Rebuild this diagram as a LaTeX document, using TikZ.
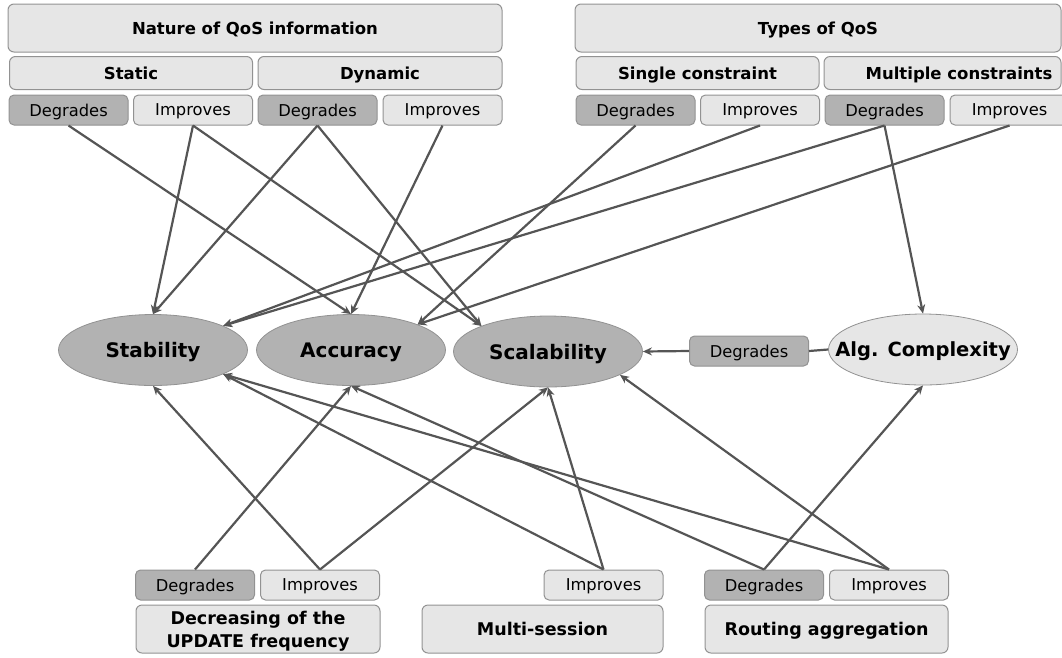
\documentclass[tikz,border=0pt]{standalone}
\usepackage{fontspec}
\setmainfont{DejaVu Sans}
\usepackage{tikz}
\usetikzlibrary{shapes.geometric}
\usetikzlibrary{arrows.meta}

\definecolor{boxlight}{HTML}{E6E6E6}
\definecolor{boxdark}{HTML}{B2B2B2}
\definecolor{boxline}{HTML}{929292}
\definecolor{arrline}{HTML}{555555}

\tikzset{
  hdr/.style={draw=boxline, fill=boxlight, rounded corners=6pt, line width=1pt, inner sep=0pt,
    text depth=0pt, font=\fontsize{16.5}{21}\selectfont\bfseries, align=center},
  bot/.style={hdr, font=\fontsize{17.5}{23}\selectfont\bfseries, minimum height=48pt},
  deg/.style={draw=boxline, fill=boxdark, rounded corners=5pt, line width=1pt, inner sep=0pt,
    text depth=0pt, minimum width=119pt, minimum height=30pt, font=\fontsize{16.3}{19}\selectfont},
  imp/.style={deg, fill=boxlight},
  prop/.style={ellipse, draw=boxline, fill=boxdark, line width=0.8pt, inner sep=0pt,
    text depth=0pt, minimum width=189pt, minimum height=71pt, font=\fontsize{20}{24}\selectfont\bfseries},
  link/.style={draw=arrline, line width=2.2pt, -{Stealth[length=9pt,width=8pt]}},
}

\begin{document}
\begin{tikzpicture}[x=1pt,y=-1pt]
    \useasboundingbox (0,0) rectangle (1062,657);

    % top: nature of QoS information
    \node[hdr, minimum width=494pt, minimum height=48pt] (nat) at (255,28) {Nature of QoS information};
    \node[hdr, minimum width=243pt, minimum height=33pt] (sta) at (131,73) {Static};
    \node[hdr, minimum width=244pt, minimum height=33pt] (dyn) at (380,73) {Dynamic};
    \node[deg] (d1) at (68.5,110) {Degrades};
    \node[imp] (i1) at (193,110) {Improves};
    \node[deg] (d2) at (317.5,110) {Degrades};
    \node[imp] (i2) at (442.5,110) {Improves};

    % top: types of QoS
    \node[hdr, minimum width=486pt, minimum height=48pt] (typ) at (818,28) {Types of QoS};
    \node[hdr, minimum width=243pt, minimum height=33pt] (sgl) at (697.5,73) {Single constraint};
    \node[hdr, minimum width=237pt, minimum height=33pt] (mul) at (942.5,73) {\hspace*{33pt}Multiple constraints};
    \node[deg] (d3) at (635.5,110) {Degrades};
    \node[imp] (i3) at (760,110) {Improves};
    \node[deg] (d4) at (884.5,110) {Degrades};
    \node[imp] (i4) at (1009.5,110) {Improves};

    % properties
    \node[prop] (st) at (153,350) {\makebox[0pt]{Stability}};
    \node[prop] (ac) at (351,350) {\makebox[0pt]{Accuracy}};
    \node[prop] (sc) at (548,351.5) {\makebox[0pt]{Scalability}};
    \node[prop, fill=boxlight, font=\fontsize{19.5}{23}\selectfont\bfseries] (alg) at (923,349.5) {\makebox[0pt]{Alg. Complexity}};
    \node[deg] (dm) at (749,351) {Degrades};

    % bottom
    \node[deg] (d5) at (195,585) {Degrades};
    \node[imp] (i5) at (320,585) {Improves};
    \node[bot, minimum width=244pt] (upd) at (258,629) {Decreasing of the\\UPDATE frequency};
    \node[imp] (i6) at (603.5,585) {Improves};
    \node[bot, minimum width=241pt] (mse) at (542.5,629) {Multi-session};
    \node[deg] (d7) at (764,585) {Degrades};
    \node[imp] (i7) at (889,585) {Improves};
    \node[bot, minimum width=243pt] (rag) at (826.5,629) {Routing aggregation};

    % arrows from above
    \draw[link] (d1.south) -- (ac.north);
    \draw[link] (i1.south) -- (st.north);
    \draw[link] (i1.south) -- (sc.159);
    \draw[link] (d2.south) -- (st.north);
    \draw[link] (d2.south) -- (sc.159);
    \draw[link] (i2.south) -- (ac.north);
    \draw[link] (d3.south) -- (ac.21);
    \draw[link] (i3.south) -- (st.19);
    \draw[link] (d4.south) -- (st.19);
    \draw[link] (d4.south) -- (alg.north);
    \draw[link] (i4.south) -- (ac.21);

    % arrows from below
    \draw[link] (d5.north) -- (ac.south);
    \draw[link] (i5.north) -- (st.south);
    \draw[link] (i5.north) -- (sc.south);
    \draw[link] (i6.north) -- (st.-19);
    \draw[link] (i6.north) -- (sc.south);
    \draw[link] (d7.north) -- (ac.south);
    \draw[link] (d7.north) -- (alg.south);
    \draw[link] (i7.north) -- (st.-19);
    \draw[link] (i7.north) -- (sc.-18);

    \draw[draw=arrline, line width=2.2pt] (alg.west) -- (dm.east);
    \draw[link] (dm.west) -- (sc.east);
\end{tikzpicture}
\end{document}
